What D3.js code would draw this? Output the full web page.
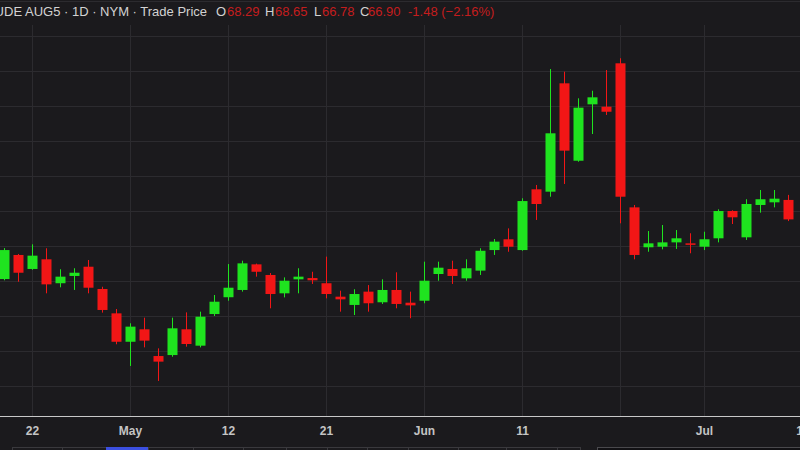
<!DOCTYPE html>
<html>
<head>
<meta charset="utf-8">
<script src="https://cdn.jsdelivr.net/npm/d3@7"></script>
<style>
  html, body { margin: 0; padding: 0; background: #1b1a1d; }
  svg { display: block; }
</style>
</head>
<body>
<div id="chart"></div>
<script>
// daily candles, crude Aug '25
const dates = ["Apr 17","Apr 21","Apr 22","Apr 23","Apr 24","Apr 25","Apr 28","Apr 29","Apr 30","May 1",
  "May 2","May 5","May 6","May 7","May 8","May 9","May 12","May 13","May 14","May 15",
  "May 16","May 19","May 20","May 21","May 22","May 23","May 27","May 28","May 29","May 30",
  "Jun 2","Jun 3","Jun 4","Jun 5","Jun 6","Jun 9","Jun 10","Jun 11","Jun 12","Jun 13",
  "Jun 16","Jun 17","Jun 18","Jun 20","Jun 23","Jun 24","Jun 25","Jun 26","Jun 27","Jun 30",
  "Jul 1","Jul 2","Jul 3","Jul 7","Jul 8","Jul 9","Jul 10"];
const open  = [62.64,64.36,63.36,64.05,62.34,62.86,63.52,61.93,60.19,58.16,
  59.05,57.14,57.21,59.05,57.88,60.14,61.34,61.86,63.69,62.93,
  61.62,62.62,62.71,62.34,61.38,60.79,61.74,60.98,61.86,60.95,
  61.09,63.00,63.36,62.69,63.24,64.71,65.48,64.71,69.05,68.88,
  76.62,71.09,75.12,74.95,78.05,67.76,64.91,64.95,65.26,65.19,
  64.95,65.55,67.50,65.62,67.93,68.12,68.29];
const high  = [64.85,64.43,65.12,64.84,63.34,63.41,64.00,62.09,60.50,59.48,
  59.88,57.69,59.88,60.26,60.31,61.50,63.71,63.95,63.74,63.07,
  62.76,63.41,63.16,64.24,61.81,61.91,62.21,62.62,63.12,61.74,
  63.88,63.88,63.95,64.05,64.84,65.50,66.26,68.41,69.36,77.64,
  77.45,75.55,76.09,77.57,78.41,67.93,66.07,66.50,66.14,65.91,
  66.02,67.62,67.55,68.34,69.00,69.00,68.65];
const low   = [62.55,62.45,63.30,61.62,62.05,61.86,61.62,60.24,57.98,56.43,
  57.76,55.36,57.09,57.81,57.76,60.00,61.09,61.74,62.81,60.55,
  61.33,61.62,62.29,61.26,60.31,60.07,60.31,60.86,60.55,59.84,
  60.91,62.52,62.29,62.52,62.93,64.36,64.59,64.66,66.86,68.52,
  69.43,71.02,73.00,74.36,66.62,64.05,64.59,64.76,64.79,64.48,
  64.71,65.26,66.57,65.43,67.38,67.76,66.78];
const close = [64.71,63.09,64.31,62.26,62.81,63.09,62.02,60.43,58.16,59.24,
  58.24,56.74,59.12,58.00,59.95,61.02,62.02,63.76,63.16,61.57,
  62.52,62.81,62.55,61.57,61.19,61.57,60.91,61.86,60.86,60.76,
  62.52,63.45,62.86,63.41,64.66,65.31,64.95,68.21,68.00,73.05,
  71.81,74.88,75.62,74.59,68.52,64.36,65.19,65.26,65.55,65.12,
  65.48,67.50,67.05,68.00,68.34,68.38,66.90];

// x axis: candle index of each labelled date, plus the unlabelled Jun 23 line
const tickIndex  = [2, 9, 16, 23, 30, 37, 50, 57];
const tickLabels = ["22", "May", "12", "21", "Jun", "11", "Jul", "11"];
const gridIndex  = [2, 9, 16, 23, 30, 37, 44, 50, 57];
const priceGrid  = [55, 57.5, 60, 62.5, 65, 67.5, 70, 72.5, 75, 77.5, 80, 82.5];

// header legend
const headerTitle = "CRUDE AUG5 \u00b7 1D \u00b7 NYM \u00b7 Trade Price";
const lastO = "68.29", lastH = "68.65", lastL = "66.78", lastC = "66.90";
const lastChange = "-1.48 (\u22122.16%)";

// toolbar strip at the very bottom (x edges), third one is the active range
const toolbarEdges = [12, 62, 106, 148, 193, 243, 286, 327, 367, 408, 458, 506, 557, 580];

const width = 800, height = 450;
const axisY = 416;
const up = "#1fe31f", down = "#f21616";

const candles = dates.map((d, i) => ({
    i: i, date: d, o: open[i], h: high[i], l: low[i], c: close[i]
}));

const svg = d3.select("#chart").append("svg")
    .attr("width", width)
    .attr("height", height)
    .style("background", "#1b1a1d");

let x = d3.scaleLinear().domain([0, 57]).range([4, 802]);
let y = d3.scaleLinear().domain([55, 80]).range([386, 36]);
const bodyW = 10;

// grid
svg.append("g").selectAll("line")
    .data(priceGrid)
    .enter()
    .append("line")
    .attr("x1", 0).attr("x2", width)
    .attr("y1", d => Math.round(y(d)) + 0.5)
    .attr("y2", d => Math.round(y(d)) + 0.5)
    .attr("stroke", "#2c2b2f")
    .attr("stroke-width", 1);

svg.append("g").selectAll("line")
    .data(gridIndex)
    .enter()
    .append("line")
    .attr("x1", d => Math.round(x(d)) + 0.5)
    .attr("x2", d => Math.round(x(d)) + 0.5)
    .attr("y1", 25).attr("y2", axisY)
    .attr("stroke", "#2c2b2f")
    .attr("stroke-width", 1);

// candles
let candleGroup = svg.append("g");

candleGroup.selectAll(".wick")
    .data(candles)
    .enter()
    .append("line")
    .attr("class", "wick")
    .attr("x1", d => Math.round(x(d.i)) + 0.5)
    .attr("x2", d => Math.round(x(d.i)) + 0.5)
    .attr("y1", d => y(d.h))
    .attr("y2", d => y(d.l))
    .attr("stroke", d => d.c >= d.o ? up : down)
    .attr("stroke-width", 1);

candleGroup.selectAll(".body")
    .data(candles)
    .enter()
    .append("rect")
    .attr("class", "body")
    .attr("x", d => Math.round(x(d.i)) - bodyW / 2 + 0.5)
    .attr("y", d => y(Math.max(d.o, d.c)))
    .attr("width", bodyW)
    .attr("height", d => Math.max(1.5, Math.abs(y(d.o) - y(d.c))))
    .attr("fill", d => d.c >= d.o ? up : down);

// x axis
let xAxis = d3.axisBottom(x)
    .tickValues(tickIndex)
    .tickFormat((d, i) => tickLabels[i])
    .tickSize(0)
    .tickPadding(10);

let axisG = svg.append("g")
    .attr("transform", `translate(0, ${axisY})`)
    .call(xAxis);
axisG.select(".domain").remove();
axisG.selectAll("text")
    .attr("fill", "#c4c4c4")
    .style("font-family", "'Liberation Sans', Arial, sans-serif")
    .style("font-size", "12px")
    .style("font-weight", "bold");

svg.append("line")
    .attr("x1", 0).attr("x2", width)
    .attr("y1", axisY + 0.5).attr("y2", axisY + 0.5)
    .attr("stroke", "#c8c8c8")
    .attr("stroke-width", 1);

// toolbar strip
let tb = svg.append("g");
for (let k = 0; k < toolbarEdges.length - 1; k++) {
    tb.append("rect")
        .attr("x", toolbarEdges[k] + 0.5)
        .attr("y", 447.5)
        .attr("width", toolbarEdges[k + 1] - toolbarEdges[k])
        .attr("height", 6)
        .attr("fill", k === 2 ? "#3b4fe0" : "#1b1a1d")
        .attr("stroke", k === 2 ? "#3b4fe0" : "#3a393d");
}
tb.append("rect")
    .attr("x", 597.5).attr("y", 447.5)
    .attr("width", 210).attr("height", 6)
    .attr("fill", "#121114")
    .attr("stroke", "#4a494d");

// header
let header = svg.append("text")
    .attr("y", 16)
    .style("font-family", "'Liberation Sans', Arial, sans-serif")
    .style("font-size", "13px");

header.append("tspan").attr("x", 207).attr("text-anchor", "end")
    .attr("fill", "#d2d2d2").text(headerTitle);

const pieces = [
    ["O", 216, "#d2d2d2"], [lastO, 227, "#c41d1d"],
    ["H", 265, "#d2d2d2"], [lastH, 275, "#c41d1d"],
    ["L", 314, "#d2d2d2"], [lastL, 322, "#c41d1d"],
    ["C", 360, "#d2d2d2"], [lastC, 368, "#c41d1d"],
    [lastChange, 408, "#c41d1d"]
];
pieces.forEach(p => {
    svg.append("text")
        .attr("x", p[1]).attr("y", 16)
        .attr("fill", p[2])
        .style("font-family", "'Liberation Sans', Arial, sans-serif")
        .style("font-size", "13px")
        .text(p[0]);
});
</script>
</body>
</html>
